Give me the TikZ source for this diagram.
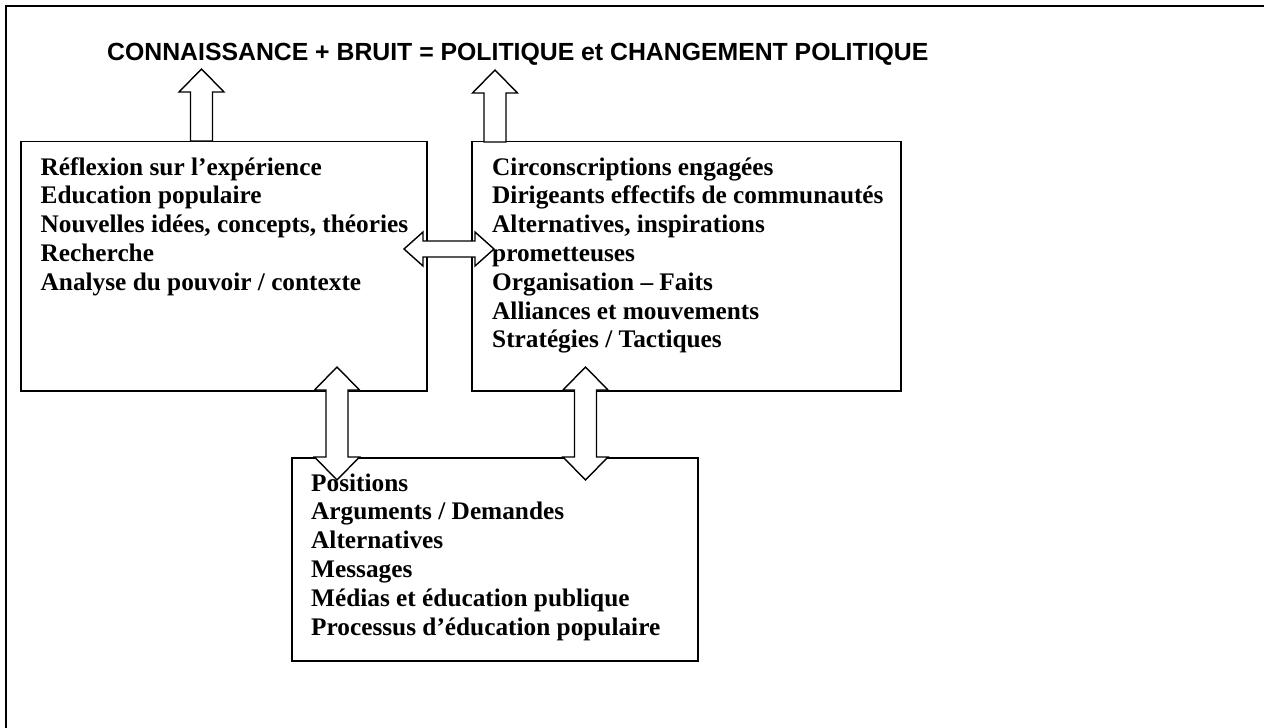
\documentclass[tikz,border=0pt]{standalone}
\usepackage{fontspec}
\setmainfont{Liberation Serif}
\newfontfamily\titlefont{Liberation Sans}
\begin{document}
\begin{tikzpicture}[x=1pt,y=-1pt,
  frameline/.style={line width=1.8pt},
  panel/.style={draw, line width=1.8pt, inner sep=0pt},
  blockarrow/.style={draw, fill=white, line width=1.4pt, line join=miter},
  listtext/.style={inner sep=0pt, anchor=base west,
    font=\fontsize{25.3}{28.8}\selectfont\bfseries},
  titletext/.style={inner sep=0pt, anchor=base west,
    font=\fontsize{24.8}{28}\selectfont\titlefont\bfseries},
  % vertical two-headed block arrow, centred on its position
  vdouble/.pic={
    \path[blockarrow] (0,-56.5) -- (22.5,-33.5) -- (11,-33.5) -- (11,33.5)
      -- (22.5,33.5) -- (0,56.5) -- (-22.5,33.5) -- (-11,33.5) -- (-11,-33.5)
      -- (-22.5,-33.5) -- cycle;
  },
  % horizontal two-headed block arrow, centred on its position
  hdouble/.pic={
    \path[blockarrow] (-45,0) -- (-26,-17) -- (-26,-8) -- (26,-8) -- (26,-17)
      -- (45,0) -- (26,17) -- (26,8) -- (-26,8) -- (-26,17) -- cycle;
  },
  % upward block arrow, placed by its tip
  upblock/.pic={
    \path[blockarrow] (0,0) -- (22.5,23) -- (11,23) -- (11,72) -- (-11,72)
      -- (-11,23) -- (-22.5,23) -- cycle;
  }
]
\useasboundingbox (0,0) rectangle (1264,728);

% outer frame (left and top edges)
\coordinate (frameBL) at (6,728);
\coordinate (frameTL) at (6,6);
\coordinate (frameTR) at (1264,6);
\draw[frameline] (frameBL) -- (frameTL) -- (frameTR);

% the three panels
\node[panel, minimum width=406pt, minimum height=249.5pt] (knowledge) at (224,266.25) {};
\node[panel, minimum width=429pt, minimum height=249.5pt] (people) at (686.5,266.25) {};
\node[panel, minimum width=406pt, minimum height=203pt] (message) at (495,559.5) {};

% block arrows
\pic (upLeft) at (201.5,69) {upblock};
\pic (upRight) at (495,70) {upblock};
\pic (linkTop) at (449,249) {hdouble};
\pic (linkLeft) at (337,423.5) {vdouble};
\pic (linkRight) at (585.5,423.5) {vdouble};

% title
\node[titletext] (title) at (107,60.5)
  {CONNAISSANCE + BRUIT = POLITIQUE et CHANGEMENT POLITIQUE};

% panel contents
\node[listtext] (knowledgeText) at (40.5,175) {\vtop{%
  \hbox{Réflexion sur l’expérience}
  \hbox{Education populaire}
  \hbox{Nouvelles idées, concepts, théories}
  \hbox{Recherche}
  \hbox{Analyse du pouvoir / contexte}}};

\node[listtext] (peopleText) at (492,175) {\vtop{%
  \hbox{Circonscriptions engagées}
  \hbox{Dirigeants effectifs de communautés}
  \hbox{Alternatives, inspirations}
  \hbox{prometteuses}
  \hbox{Organisation – Faits}
  \hbox{Alliances et mouvements}
  \hbox{Stratégies / Tactiques}}};

\node[listtext] (messageText) at (311,491) {\vtop{%
  \hbox{Positions}
  \hbox{Arguments / Demandes}
  \hbox{Alternatives}
  \hbox{Messages}
  \hbox{Médias et éducation publique}
  \hbox{Processus d’éducation populaire}}};
\end{tikzpicture}
\end{document}
